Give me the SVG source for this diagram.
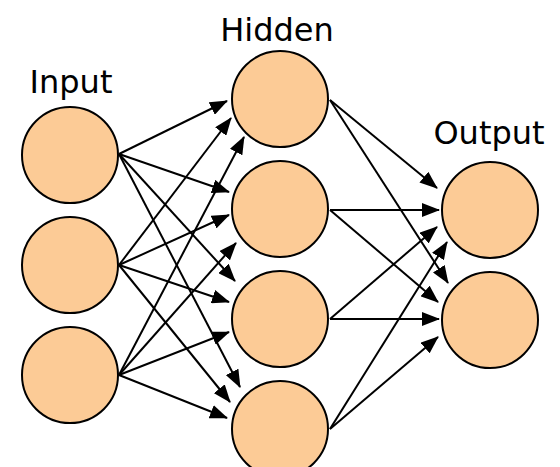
<svg xmlns="http://www.w3.org/2000/svg" width="560" height="467" viewBox="0 0 560 467">
<style>
.node{fill:#fccb96;stroke:#000;stroke-width:2}
.lbl{font-family:"DejaVu Sans",sans-serif;font-size:32px;fill:#000;text-anchor:middle}
.c line{stroke:#000;stroke-width:2;marker-end:url(#ah)}
</style>
<defs>
<marker id="ah" viewBox="0 0 18 14" refX="17" refY="7" markerWidth="18" markerHeight="14" markerUnits="userSpaceOnUse" orient="auto">
<path d="M0,0 L18,7 L0,14 z" fill="#000"/>
</marker>
</defs>
<rect width="560" height="467" fill="#fff"/>
<text class="lbl" x="71" y="93">Input</text>
<text class="lbl" x="277" y="41">Hidden</text>
<text class="lbl" x="489" y="144">Output</text>
<g class="c" id="connectors">
<line x1="119" y1="154" x2="227" y2="101"/>
<line x1="119" y1="154" x2="229" y2="192"/>
<line x1="119" y1="154" x2="235" y2="281"/>
<line x1="119" y1="154" x2="240" y2="387"/>
<line x1="119" y1="265" x2="231" y2="118"/>
<line x1="119" y1="265" x2="229" y2="215"/>
<line x1="119" y1="265" x2="229" y2="302"/>
<line x1="119" y1="265" x2="230" y2="402"/>
<line x1="119" y1="375" x2="244" y2="137"/>
<line x1="119" y1="375" x2="236" y2="243"/>
<line x1="119" y1="375" x2="229" y2="332"/>
<line x1="119" y1="375" x2="227" y2="418"/>
<line x1="330" y1="100" x2="437" y2="188"/>
<line x1="330" y1="100" x2="448" y2="283"/>
<line x1="330" y1="210" x2="439" y2="210"/>
<line x1="330" y1="210" x2="438" y2="302"/>
<line x1="330" y1="319" x2="437" y2="227"/>
<line x1="330" y1="319" x2="439" y2="319"/>
<line x1="330" y1="429" x2="447" y2="242"/>
<line x1="330" y1="429" x2="438" y2="337"/>
</g>
<g id="in1"><circle class="node" cx="70" cy="155" r="48"/></g>
<g id="in2"><circle class="node" cx="70" cy="265" r="48"/></g>
<g id="in3"><circle class="node" cx="70" cy="375" r="48"/></g>
<g id="h1"><circle class="node" cx="280" cy="99" r="48"/></g>
<g id="h2"><circle class="node" cx="280" cy="209" r="48"/></g>
<g id="h3"><circle class="node" cx="280" cy="319" r="48"/></g>
<g id="h4"><circle class="node" cx="280" cy="429" r="48"/></g>
<g id="o1"><circle class="node" cx="490" cy="210" r="48"/></g>
<g id="o2"><circle class="node" cx="490" cy="320" r="48"/></g>
</svg>
